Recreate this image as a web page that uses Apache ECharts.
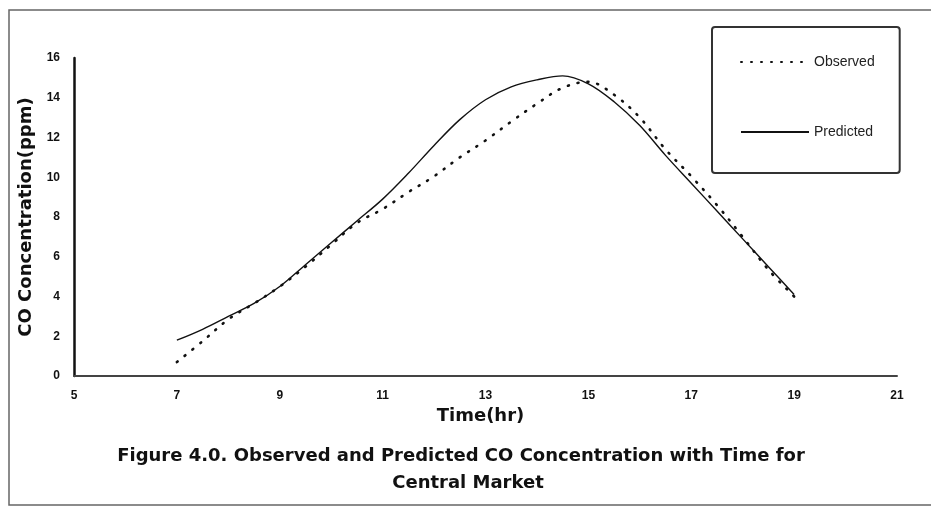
<!DOCTYPE html>
<html>
<head>
<meta charset="utf-8">
<script src="https://cdn.jsdelivr.net/npm/echarts@6/dist/echarts.min.js"></script>
<style>
html,body{margin:0;padding:0;background:#fff;}
#chart{width:931px;height:509px;}
</style>
</head>
<body>
<div id="chart"></div>
<script>
var timeHr = [7.0, 7.5, 8.0, 8.5, 9.0, 9.5, 10.0, 10.5, 11.0, 11.5, 12.0, 12.5, 13.0, 13.5, 14.0, 14.5, 15.0, 15.5, 16.0, 16.5, 17.0, 17.5, 18.0, 18.5, 19.0];
var observed = [0.7, 1.75, 2.85, 3.65, 4.5, 5.5, 6.6, 7.7, 8.4, 9.25, 10.05, 11.0, 11.85, 12.8, 13.7, 14.5, 14.8, 14.15, 13.0, 11.4, 10.05, 8.6, 7.0, 5.35, 4.0];
var predicted = [1.8, 2.35, 3.0, 3.65, 4.5, 5.6, 6.7, 7.8, 8.9, 10.2, 11.6, 12.9, 13.9, 14.55, 14.9, 15.1, 14.7, 13.8, 12.6, 11.1, 9.7, 8.3, 6.9, 5.5, 4.1];
var xTicks = [5, 7, 9, 11, 13, 15, 17, 19, 21];
var yTicks = [0, 2, 4, 6, 8, 10, 12, 14, 16];
var captionLines = ['Figure 4.0. Observed and Predicted CO Concentration with Time for', 'Central Market'];

function pairs(xs, ys) { return xs.map(function (x, i) { return [x, ys[i]]; }); }

var FONT = 'Liberation Sans, Arial, sans-serif';
var BOLDFONT = 'DejaVu Sans, Liberation Sans, sans-serif';
var chart = echarts.init(document.getElementById('chart'), null, {renderer: 'canvas'});
chart.setOption({
  backgroundColor: '#ffffff',
  animation: false,
  graphic: [{
    type: 'rect',
    shape: {x: 9, y: 10, width: 930, height: 495},
    style: {fill: 'none', stroke: '#666', lineWidth: 1.5},
    silent: true
  }, {
    type: 'text',
    x: 461, y: 456,
    style: {text: captionLines[0], font: 'bold 18px ' + BOLDFONT, fill: '#111', align: 'center', verticalAlign: 'middle'},
    silent: true
  }, {
    type: 'text',
    x: 468, y: 483,
    style: {text: captionLines[1], font: 'bold 18px ' + BOLDFONT, fill: '#111', align: 'center', verticalAlign: 'middle'},
    silent: true
  }],
  legend: {
    orient: 'vertical',
    left: 712,
    top: 27,
    padding: [28, 25, 34, 28],
    itemWidth: 68,
    itemHeight: 14,
    itemGap: 56,
    borderColor: '#333',
    borderWidth: 2,
    borderRadius: 3,
    itemStyle: {opacity: 0},
    textStyle: {fontFamily: FONT, fontSize: 14, color: '#222'},
    data: ['Observed', 'Predicted']
  },
  grid: {left: 74, right: 34, top: 58, bottom: 133},
  xAxis: {
    type: 'value',
    min: xTicks[0],
    max: xTicks[xTicks.length - 1],
    interval: 2,
    name: 'Time(hr)',
    nameLocation: 'middle',
    nameGap: 31,
    nameTextStyle: {fontFamily: BOLDFONT, fontSize: 18, fontWeight: 'bold', color: '#111', padding: [0, 10, 0, 0]},
    axisLine: {lineStyle: {color: '#444', width: 2}},
    axisTick: {show: false},
    splitLine: {show: false},
    axisLabel: {margin: 14, fontFamily: FONT, fontSize: 12, fontWeight: 'bold', color: '#111'}
  },
  yAxis: {
    type: 'value',
    min: yTicks[0],
    max: yTicks[yTicks.length - 1],
    interval: 2,
    name: 'CO Concentration(ppm)',
    nameLocation: 'middle',
    nameGap: 29,
    nameTextStyle: {fontFamily: BOLDFONT, fontSize: 18, fontWeight: 'bold', color: '#111'},
    axisLine: {show: true, lineStyle: {color: '#111', width: 2.5}},
    axisTick: {show: false},
    splitLine: {show: false},
    axisLabel: {margin: 14, fontFamily: FONT, fontSize: 12, fontWeight: 'bold', color: '#111'}
  },
  series: [{
    name: 'Observed',
    type: 'line',
    data: pairs(timeHr, observed),
    smooth: 0.35,
    showSymbol: false,
    symbol: 'none',
    itemStyle: {color: '#111'},
    lineStyle: {color: '#111', width: 2.6, type: [1, 9], cap: 'round'}
  }, {
    name: 'Predicted',
    type: 'line',
    data: pairs(timeHr, predicted),
    smooth: 0.35,
    showSymbol: false,
    symbol: 'none',
    itemStyle: {color: '#111'},
    lineStyle: {color: '#111', width: 1.4, type: 'solid'}
  }]
});
</script>
</body>
</html>
